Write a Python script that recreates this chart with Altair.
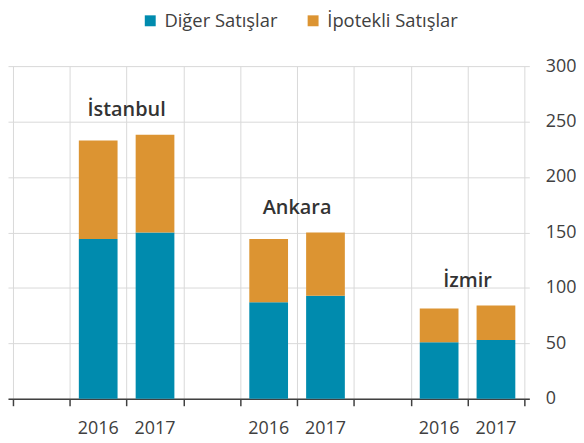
import altair as alt
import pandas as pd

cities = ["İstanbul", "Ankara", "İzmir"]
years = ["2016", "2017"]
series = ["Diğer Satışlar", "İpotekli Satışlar"]
diger = [144, 150, 87, 93, 51, 53]
ipotekli = [89, 88, 57, 57, 30.5, 31]
y_ticks = [0, 50, 100, 150, 200, 250, 300]
colors = ["#008BAE", "#DC9432"]

# slot layout: one blank slot before each city, then one slot per year
group = len(years) + 1
n_slots = group * len(cities)

rows = []
lab_rows = []
year_rows = []
i = 0
for k, c in enumerate(cities):
    tops = []
    for j, y in enumerate(years):
        center = k * group + 1 + j + 0.5
        rows.append({"pos": center, "series": series[0], "value": diger[i], "ord": 0})
        rows.append({"pos": center, "series": series[1], "value": ipotekli[i], "ord": 1})
        year_rows.append({"pos": center, "year": y, "base": 0})
        tops.append(diger[i] + ipotekli[i])
        i += 1
    lab_rows.append({"pos": k * group + 1 + len(years) / 2, "city": c, "top": max(tops)})
df = pd.DataFrame(rows)
labels = pd.DataFrame(lab_rows)
year_df = pd.DataFrame(year_rows)

# slot edges carry the ticks and vertical grid lines
x_edges = list(range(0, n_slots + 1))

FONT = "Open Sans"

x_scale = alt.Scale(domain=[0, n_slots], nice=False, zero=False)
y_scale = alt.Scale(domain=[0, 300])

bars = alt.Chart(df).mark_bar(width=39).encode(
    x=alt.X("pos:Q", scale=x_scale, title=None,
            axis=alt.Axis(values=x_edges, labels=False, grid=True, gridWidth=1,
                          gridColor="#d9d9d9", domainColor="#404040", domainWidth=1.5,
                          tickColor="#404040", tickWidth=1.5, tickSize=7)),
    y=alt.Y("value:Q", stack="zero", scale=y_scale, title=None,
            axis=alt.Axis(orient="right", values=y_ticks, grid=True, gridColor="#d9d9d9",
                          domain=False, ticks=False, labelPadding=16, labelFontSize=18,
                          labelColor="#404040", labelFont=FONT)),
    color=alt.Color("series:N", scale=alt.Scale(domain=series, range=colors), title=None,
                    legend=alt.Legend(orient="none", legendX=134, legendY=-55,
                                      direction="horizontal", symbolType="square",
                                      symbolSize=121, symbolStrokeWidth=0,
                                      labelFontSize=18.5, labelColor="#404040", labelFont=FONT,
                                      columnPadding=26, labelOffset=5)),
    order=alt.Order("ord:Q"),
)

city_text = alt.Chart(labels).mark_text(fontSize=20, fontWeight=600, font=FONT,
                                        color="#333333", dy=-25, baseline="middle").encode(
    x=alt.X("pos:Q", scale=x_scale),
    y=alt.Y("top:Q", scale=y_scale),
    text="city:N",
)

year_text = alt.Chart(year_df).mark_text(fontSize=18, font=FONT, color="#404040",
                                         dy=30, baseline="middle").encode(
    x=alt.X("pos:Q", scale=x_scale),
    y=alt.Y("base:Q", scale=y_scale),
    text="year:N",
)

chart = alt.layer(bars, city_text, year_text).properties(
    width=525, height=335,
    padding={"left": 0, "top": 2, "right": 0, "bottom": 0},
).configure_view(stroke=None)

chart.save("out.html", embed_options={"renderer": "svg", "actions": False})
